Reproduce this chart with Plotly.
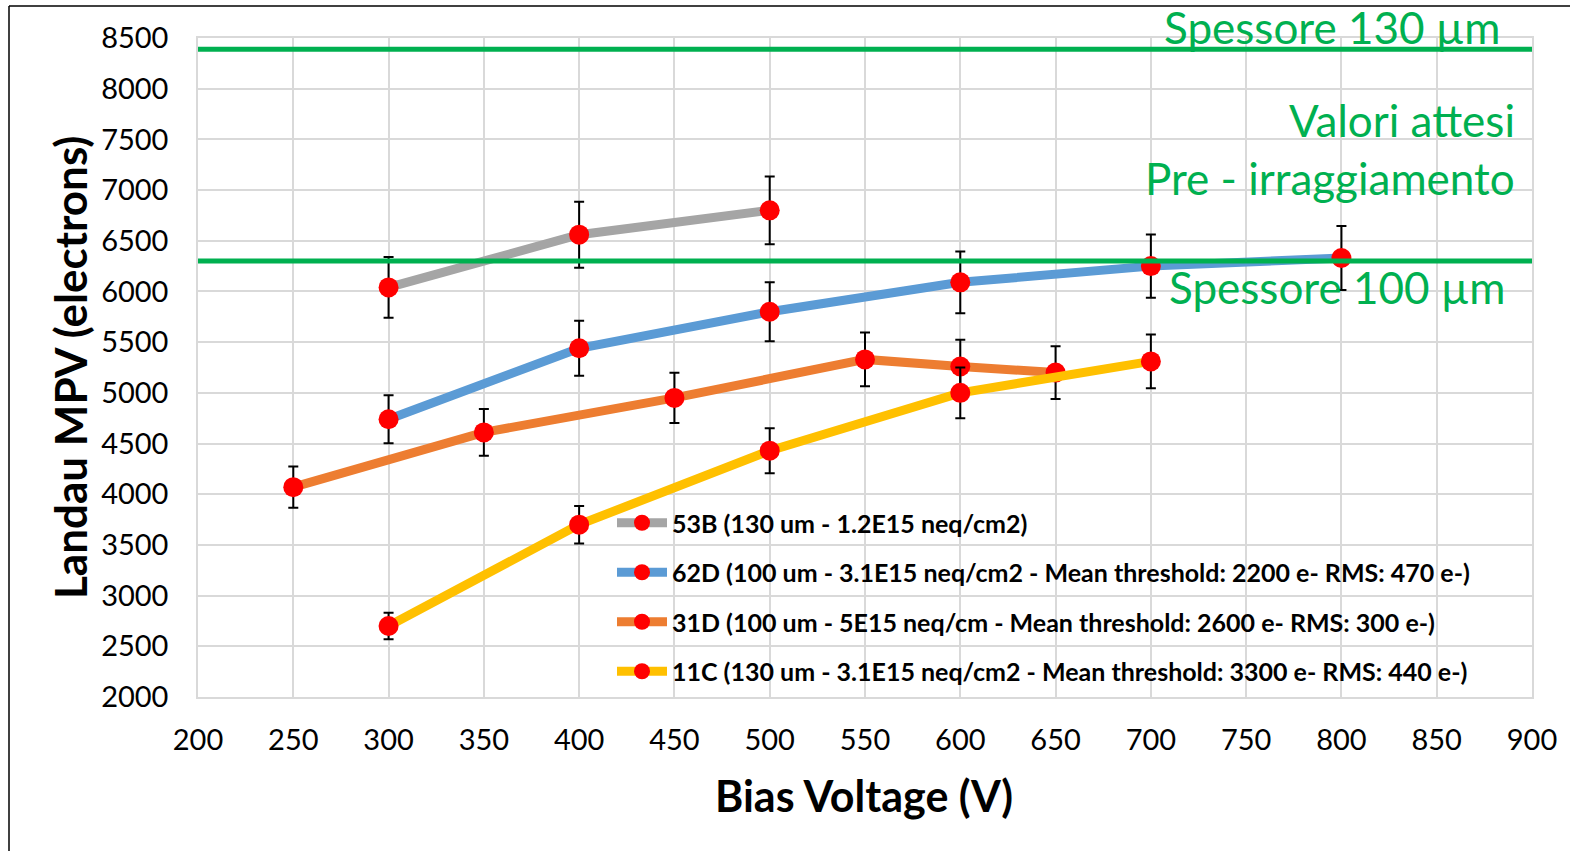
import plotly.graph_objects as go

# ---------------- data ----------------
names = [
    "53B (130 um - 1.2E15 neq/cm2)",
    "62D (100 um - 3.1E15 neq/cm2 - Mean threshold: 2200 e- RMS: 470 e-)",
    "31D (100 um - 5E15 neq/cm - Mean threshold: 2600 e- RMS: 300 e-)",
    "11C (130 um - 3.1E15 neq/cm2 - Mean threshold: 3300 e- RMS: 440 e-)",
]
x_53B = [300, 400, 500]
y_53B = [6040, 6560, 6800]
e_53B = [300, 325, 335]

x_62D = [300, 400, 500, 600, 700, 800]
y_62D = [4740, 5440, 5800, 6090, 6250, 6330]
e_62D = [237, 272, 290, 305, 312, 316]

x_31D = [250, 350, 450, 550, 600, 650]
y_31D = [4070, 4610, 4950, 5330, 5260, 5200]
e_31D = [204, 230, 248, 266, 263, 260]

x_11C = [300, 400, 500, 600, 700]
y_11C = [2700, 3700, 4430, 5000, 5310]
e_11C = [130, 185, 222, 250, 265]

ref_x = [200, 900]
thick_130 = 8390
thick_100 = 6300

colors = ["#A5A5A5", "#5B9BD5", "#ED7D31", "#FFC000"]
GREEN = "#00B050"

# ---------------- layout geometry (pixels) ----------------
W, H = 1570, 851
L, R, T, B = 198, 38, 38, 154
PW, PH = W - L - R, H - T - B


def px(xp):
    return (xp - L) / PW


def py(yp):
    return (H - B - yp) / PH


FONT = "Lato"

fig = go.Figure()
series = [(x_53B, y_53B, e_53B), (x_62D, y_62D, e_62D), (x_31D, y_31D, e_31D), (x_11C, y_11C, e_11C)]
for i, (xs, ys, es) in enumerate(series):
    fig.add_trace(go.Scatter(
        x=xs, y=ys, name=names[i], mode="lines+markers",
        legendgroup=f"g{i}",
        line=dict(color=colors[i], width=9),
        marker=dict(color="#FF0000", size=20),
        error_y=dict(type="data", array=es, visible=True, color="#000000", thickness=2, width=5),
    ))

for yv in (thick_130, thick_100):
    fig.add_trace(go.Scatter(
        x=ref_x, y=[yv, yv], mode="lines", showlegend=False, hoverinfo="skip",
        line=dict(color=GREEN, width=5),
    ))

grid = "#D9D9D9"
fig.update_xaxes(
    range=[200, 900], dtick=50, tick0=200, showgrid=True, gridcolor=grid, gridwidth=1.5,
    showline=True, linecolor=grid, linewidth=1.5, mirror=True, zeroline=False,
    ticks="", ticklabelstandoff=16,
    tickfont=dict(family=FONT, size=29, color="#000000"),
)
fig.update_yaxes(
    range=[2000, 8500], dtick=500, tick0=2000, showgrid=True, gridcolor=grid, gridwidth=1.5,
    showline=True, linecolor=grid, linewidth=1.5, mirror=True, zeroline=False,
    ticks="", ticklabelstandoff=22,
    tickfont=dict(family=FONT, size=29, color="#000000"),
)

annotations = [
    dict(text="Spessore 130 µm", x=px(1503), y=py(27), xanchor="right", yanchor="middle", size=44),
    dict(text="Valori attesi", x=px(1517), y=py(120), xanchor="right", yanchor="middle", size=44),
    dict(text="Pre - irraggiamento", x=px(1517), y=py(178), xanchor="right", yanchor="middle", size=44),
    dict(text="Spessore 100 µm", x=px(1508), y=py(287), xanchor="right", yanchor="middle", size=44),
]
ann = []
for a in annotations:
    ann.append(dict(text=a["text"], x=a["x"], y=a["y"], xref="paper", yref="paper",
                    xanchor=a["xanchor"], yanchor=a["yanchor"], showarrow=False,
                    font=dict(family=FONT, size=a["size"], color=GREEN)))
ann.append(dict(text="<b>Bias Voltage (V)</b>", x=px(864), y=py(795), xref="paper", yref="paper",
                xanchor="center", yanchor="middle", showarrow=False,
                font=dict(family=FONT, size=43, color="#000000")))
ann.append(dict(text="<b>Landau MPV (electrons)</b>", x=px(70), y=py(368), xref="paper", yref="paper",
                xanchor="center", yanchor="middle", showarrow=False, textangle=-90,
                font=dict(family=FONT, size=44, color="#000000")))

shapes = [
    dict(type="line", xref="paper", yref="paper", x0=px(9), x1=px(1570), y0=py(6), y1=py(6),
         line=dict(color="#000000", width=1.5)),
    dict(type="line", xref="paper", yref="paper", x0=px(9), x1=px(9), y0=py(6), y1=py(851),
         line=dict(color="#000000", width=1.5)),
]

fig.update_layout(
    width=W, height=H,
    margin=dict(l=L, r=R, t=T, b=B, pad=0),
    paper_bgcolor="#FFFFFF", plot_bgcolor="#FFFFFF",
    annotations=ann, shapes=shapes,
    legend=dict(
        x=px(612), y=py(500), xanchor="left", yanchor="top",
        bgcolor="rgba(0,0,0,0)", borderwidth=0,
        traceorder="grouped", tracegroupgap=14, itemwidth=50,
        font=dict(family=FONT, size=25, color="#000000", weight="bold"),
    ),
    showlegend=True,
)

fig.write_html("out.html")
